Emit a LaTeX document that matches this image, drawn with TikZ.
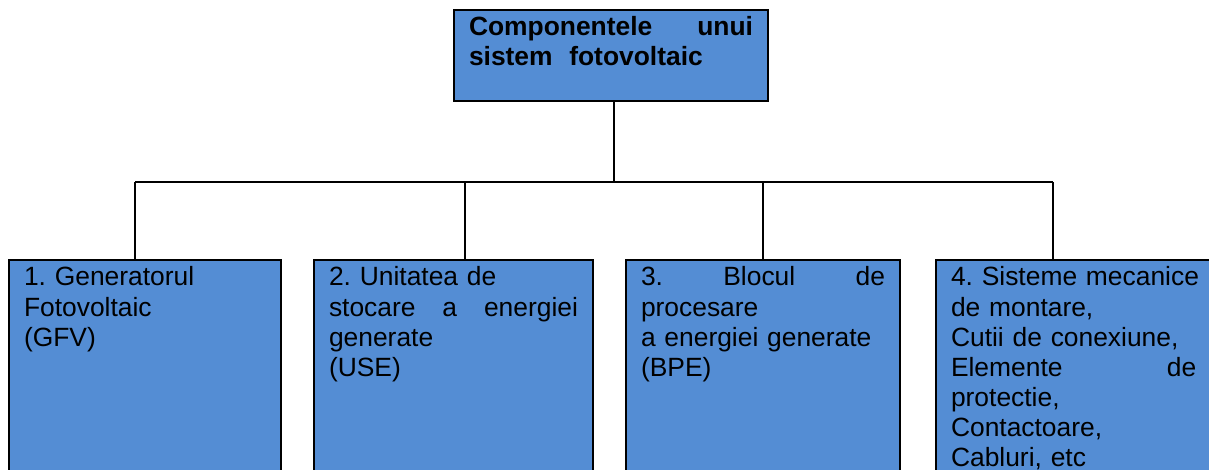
\documentclass[tikz,border=0pt]{standalone}
\usepackage{fontspec}
\setmainfont{Liberation Sans}
\usetikzlibrary{positioning}
\definecolor{boxblue}{HTML}{548DD4}
\setlength{\parindent}{0pt}
\frenchspacing

\begin{document}
\begin{tikzpicture}[x=0.75pt,y=-0.75pt]
\tikzstyle{comp}=[rectangle, draw=black, line width=1.8pt, fill=boxblue, anchor=north west, align=left, outer sep=0pt, inner xsep=11.25pt, inner ysep=3pt, text height=16.5pt, text depth=187.5pt, font=\fontsize{19.8pt}{22.5pt}\selectfont]
\tikzstyle{wire}=[line width=1.5pt, draw=black]
\useasboundingbox (0,0) rectangle (1209,470);
\clip (0,0) rectangle (1209,470);
  \node[comp, text width=213pt, text depth=45.75pt, font=\fontsize{19.8pt}{22.5pt}\selectfont\bfseries] (sys) at (454,10) {Componentele\hfill unui\\sistem\hspace{12.5pt}fotovoltaic};
  \node[comp, text width=181.5pt] (gfv) at (9,260) {1. Generatorul\\Fotovoltaic\\(GFV)};
  \node[comp, text width=186.75pt] (use) [right=24.75pt of gfv] {2. Unitatea de\\stocare\hfill a\hfill energiei\\generate\\(USE)};
  \node[comp, text width=183pt] (bpe) [right=24.75pt of use] {3.\hfill Blocul\hfill de\\procesare\\a energiei generate\\(BPE)};
  \node[comp, text width=192pt] (mec) [right=27pt of bpe] {\mbox{4. Sisteme mecanice}\\de montare,\\Cutii de conexiune,\\Elemente\hfill de\rule{8pt}{0pt}\\protectie,\\Contactoare,\\Cabluri, etc};
\coordinate (bus0) at (614,182);
\coordinate (bus1) at (135,182);
\coordinate (bus2) at (465,182);
\coordinate (bus3) at (763,182);
\coordinate (bus4) at (1053,182);
\draw[wire] (bus0 |- sys.south) -- (bus0);
\draw[wire] (bus1) -- (bus4);
\foreach \n/\b in {1/gfv,2/use,3/bpe,4/mec}
  \draw[wire] (bus\n) -- (bus\n |- \b.north);
\end{tikzpicture}
\end{document}
